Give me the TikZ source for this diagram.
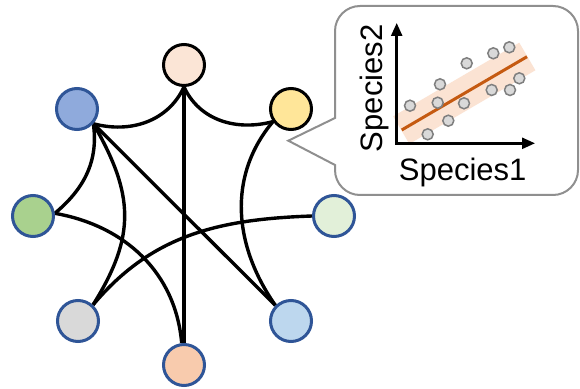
\documentclass[tikz,border=0pt]{standalone}
\usepackage{fontspec}
\setmainfont{Liberation Sans}
\usetikzlibrary{arrows.meta,backgrounds}
\definecolor{nodeblue}{HTML}{2F5597}
\definecolor{cTop}{HTML}{FBE5D6}
\definecolor{cYel}{HTML}{FFE699}
\definecolor{cBlu}{HTML}{8FAADC}
\definecolor{cGrn}{HTML}{A9D18E}
\definecolor{cLGr}{HTML}{E2F0D9}
\definecolor{cGry}{HTML}{D9D9D9}
\definecolor{cLBl}{HTML}{BDD7EE}
\definecolor{cOrg}{HTML}{F8CBAD}
\definecolor{regc}{HTML}{C55A11}
\definecolor{bandc}{HTML}{FBE3D3}
\definecolor{ptfill}{HTML}{D9D9D9}
\definecolor{ptdraw}{HTML}{7F7F7F}
\definecolor{calloutc}{HTML}{8F8F8F}
\begin{document}
\begin{tikzpicture}[x=1pt,y=1pt,
  sp/.style={circle,minimum size=41pt,inner sep=0pt,line width=3pt,draw=nodeblue},
  edge/.style={line width=3.4pt,black},
  pt/.style={circle,minimum size=11pt,inner sep=0pt,fill=ptfill,draw=ptdraw,line width=1.5pt},
  lbl/.style={font=\fontsize{31}{36}\selectfont},
  axis/.style={line width=2.5pt,black,{Triangle[length=13pt,width=11pt]}-{Triangle[length=13pt,width=11pt]}}
]
\useasboundingbox (0,0) rectangle (580,388);
% callout
\draw[draw=calloutc,line width=2pt,fill=white,line join=miter]
  (335,270) -- (288.3,247.3) -- (335,223) -- (335,218)
  arc[start angle=180,end angle=270,radius=25pt] -- (553,193)
  arc[start angle=270,end angle=360,radius=25pt] -- (578,357)
  arc[start angle=0,end angle=90,radius=25pt] -- (360,382)
  arc[start angle=90,end angle=180,radius=25pt] -- cycle;
% band and regression
\node[rotate=30.3,minimum width=146pt,minimum height=32pt,inner sep=0pt,fill=bandc] (band) at (464.3,294.7) {};
\coordinate (r1) at (401.7,258);
\coordinate (r2) at (527,331.3);
\draw[regc,line width=3pt] (r1) -- (r2);
% points
\node[pt] (p1) at (410,282.3) {};
\node[pt] (p2) at (427.7,253.7) {};
\node[pt] (p3) at (440,303.7) {};
\node[pt] (p4) at (437.7,285.3) {};
\node[pt] (p5) at (448.3,267.3) {};
\node[pt] (p6) at (464,284.7) {};
\node[pt] (p7) at (466.7,324.7) {};
\node[pt] (p8) at (493.3,334.7) {};
\node[pt] (p9) at (509.3,340.7) {};
\node[pt] (p10) at (491.7,298) {};
\node[pt] (p11) at (510,298) {};
\node[pt] (p12) at (519.3,309.7) {};
% axes
\coordinate (ytop) at (396.7,365);
\coordinate (orig) at (396.7,244.7);
\coordinate (xend) at (535,244.7);
\draw[axis] (ytop) -- (orig) -- (xend);
\node[lbl,anchor=base] (xl) at (462.7,207) {Species1};
\node[lbl,rotate=90,anchor=base] (yl) at (382,299.7) {Species2};
% network nodes
\node[sp,draw=black,fill=cTop] (T) at (184,323) {};
\node[sp,fill=cBlu] (B) at (77,279) {};
\node[sp,draw=black,fill=cYel] (Y) at (291,279) {};
\node[sp,fill=cGrn] (G) at (33,172) {};
\node[sp,fill=cLGr] (LG) at (334,172) {};
\node[sp,fill=cGry] (GR) at (78,67) {};
\node[sp,fill=cLBl] (LB) at (291,67) {};
\node[sp,fill=cOrg] (O) at (184,23) {};
% edges
\begin{scope}[on background layer]
\draw[edge] (T.south) to[out=245,in=-15] (B.-42);
\draw[edge] (T.south) to[out=295,in=195] (Y.215);
\draw[edge] (T.south) -- (O.north);
\draw[edge] (B.-42) to[out=-82,in=40] (G.7);
\draw[edge] (B.-42) to[out=-60,in=58,looseness=1.15] (GR.47);
\draw[edge] (B.-42) -- (LB.135);
\draw[edge] (G.7) to[out=-10,in=95] (O.96);
\draw[edge] (LG.180) to[out=182,in=50] (GR.47);
\draw[edge] (Y.215) to[out=230,in=125] (LB.135);
\end{scope}
\end{tikzpicture}
\end{document}
